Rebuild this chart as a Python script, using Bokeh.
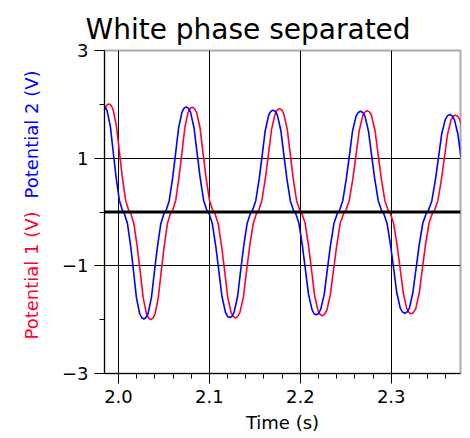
import math
from bokeh.plotting import figure
from bokeh.layouts import row
from bokeh.models import FixedTicker, Span, Range1d, NumeralTickFormatter, ColumnDataSource
from bokeh.core.properties import value
from bokeh.embed import file_html
from bokeh.resources import INLINE

# ---- data ----
time_blue = [1.9830, 1.9854, 1.9875, 1.9911, 1.9942, 1.9973, 2.0009, 2.0041, 2.0067, 2.0099, 2.0135, 2.0166, 2.0197, 2.0233, 2.0254,
             2.0278, 2.0302, 2.0325, 2.0362, 2.0395, 2.0427, 2.0465, 2.0498, 2.0526, 2.0558, 2.0596, 2.0628, 2.0661, 2.0698, 2.0721,
             2.0745, 2.0769, 2.0793, 2.0831, 2.0865, 2.0898, 2.0937, 2.0970, 2.0999, 2.1032, 2.1071, 2.1104, 2.1138, 2.1176, 2.1200,
             2.1224, 2.1248, 2.1272, 2.1310, 2.1343, 2.1376, 2.1414, 2.1448, 2.1476, 2.1510, 2.1548, 2.1581, 2.1614, 2.1652, 2.1676,
             2.1700, 2.1724, 2.1748, 2.1786, 2.1819, 2.1852, 2.1890, 2.1923, 2.1952, 2.1985, 2.2023, 2.2056, 2.2090, 2.2128, 2.2151,
             2.2175, 2.2199, 2.2224, 2.2263, 2.2297, 2.2331, 2.2370, 2.2404, 2.2433, 2.2467, 2.2506, 2.2540, 2.2574, 2.2613, 2.2638,
             2.2662, 2.2686, 2.2711, 2.2750, 2.2784, 2.2818, 2.2857, 2.2891, 2.2920, 2.2954, 2.2993, 2.3027, 2.3061, 2.3100, 2.3125,
             2.3149, 2.3173, 2.3199, 2.3238, 2.3273, 2.3307, 2.3347, 2.3382, 2.3411, 2.3446, 2.3486, 2.3520, 2.3555, 2.3595, 2.3620,
             2.3644, 2.3668, 2.3694, 2.3733, 2.3768]
potential_2 = [1.98, 1.95, 1.88, 1.58, 1.11, 0.65, 0.22, 0.04, -0.04, -0.22, -0.65, -1.11, -1.59, -1.89, -1.96,
               -1.99, -1.96, -1.89, -1.59, -1.11, -0.66, -0.22, -0.04, 0.04, 0.21, 0.64, 1.09, 1.56, 1.85, 1.93,
               1.95, 1.93, 1.85, 1.56, 1.09, 0.64, 0.21, 0.04, -0.04, -0.22, -0.65, -1.10, -1.57, -1.86, -1.94,
               -1.96, -1.94, -1.86, -1.57, -1.10, -0.65, -0.22, -0.04, 0.04, 0.21, 0.62, 1.06, 1.51, 1.80, 1.87,
               1.89, 1.87, 1.80, 1.51, 1.06, 0.62, 0.21, 0.04, -0.04, -0.21, -0.63, -1.07, -1.53, -1.81, -1.89,
               -1.91, -1.89, -1.81, -1.53, -1.07, -0.63, -0.21, -0.04, 0.04, 0.21, 0.62, 1.05, 1.50, 1.78, 1.85,
               1.87, 1.85, 1.78, 1.50, 1.05, 0.62, 0.21, 0.04, -0.04, -0.21, -0.62, -1.05, -1.50, -1.79, -1.86,
               -1.88, -1.86, -1.79, -1.50, -1.05, -0.62, -0.21, -0.04, 0.04, 0.20, 0.60, 1.01, 1.45, 1.72, 1.79,
               1.81, 1.79, 1.72, 1.45, 1.01]

time_red = [1.9810, 1.9847, 1.9869,
            1.9893, 1.9917, 1.9939, 1.9976, 2.0009, 2.0041, 2.0078, 2.0110, 2.0138, 2.0170, 2.0207, 2.0240, 2.0272, 2.0309, 2.0331,
            2.0355, 2.0379, 2.0401, 2.0437, 2.0469, 2.0501, 2.0537, 2.0569, 2.0597, 2.0629, 2.0665, 2.0697, 2.0729, 2.0765, 2.0787,
            2.0811, 2.0835, 2.0859, 2.0897, 2.0930, 2.0963, 2.1001, 2.1035, 2.1063, 2.1097, 2.1135, 2.1168, 2.1201, 2.1239, 2.1263,
            2.1287, 2.1311, 2.1335, 2.1374, 2.1408, 2.1442, 2.1481, 2.1515, 2.1544, 2.1577, 2.1616, 2.1650, 2.1684, 2.1723, 2.1747,
            2.1771, 2.1795, 2.1818, 2.1856, 2.1889, 2.1921, 2.1959, 2.1992, 2.2020, 2.2053, 2.2091, 2.2124, 2.2156, 2.2194, 2.2217,
            2.2241, 2.2265, 2.2291, 2.2330, 2.2365, 2.2399, 2.2439, 2.2474, 2.2503, 2.2538, 2.2578, 2.2612, 2.2647, 2.2687, 2.2712,
            2.2736, 2.2760, 2.2784, 2.2823, 2.2857, 2.2891, 2.2930, 2.2964, 2.2993, 2.3026, 2.3065, 2.3099, 2.3133, 2.3172, 2.3196,
            2.3220, 2.3244, 2.3269, 2.3308, 2.3342, 2.3376, 2.3415, 2.3449, 2.3478, 2.3512, 2.3551, 2.3585, 2.3619, 2.3658, 2.3683,
            2.3707, 2.3731, 2.3756, 2.3795]
potential_1 = [1.61, 1.91, 1.98,
               2.01, 1.98, 1.91, 1.61, 1.13, 0.66, 0.22, 0.04, -0.04, -0.22, -0.66, -1.12, -1.60, -1.90, -1.97,
               -2.00, -1.97, -1.90, -1.60, -1.12, -0.66, -0.22, -0.04, 0.04, 0.21, 0.64, 1.09, 1.56, 1.85, 1.92,
               1.95, 1.92, 1.85, 1.56, 1.09, 0.64, 0.21, 0.04, -0.04, -0.22, -0.65, -1.10, -1.58, -1.87, -1.94,
               -1.97, -1.94, -1.87, -1.58, -1.10, -0.65, -0.22, -0.04, 0.04, 0.21, 0.63, 1.08, 1.54, 1.82, 1.90,
               1.92, 1.90, 1.82, 1.54, 1.08, 0.63, 0.21, 0.04, -0.04, -0.21, -0.64, -1.08, -1.54, -1.83, -1.90,
               -1.93, -1.90, -1.83, -1.54, -1.08, -0.64, -0.21, -0.04, 0.04, 0.21, 0.62, 1.05, 1.50, 1.79, 1.86,
               1.88, 1.86, 1.79, 1.50, 1.05, 0.62, 0.21, 0.04, -0.04, -0.21, -0.62, -1.06, -1.51, -1.80, -1.87,
               -1.89, -1.87, -1.80, -1.51, -1.06, -0.62, -0.21, -0.04, 0.04, 0.20, 0.59, 1.01, 1.44, 1.71, 1.78,
               1.80, 1.78, 1.71, 1.44]

x_ticks = [2.0, 2.1, 2.2, 2.3]
x_minor_ticks = [2.02, 2.04, 2.06, 2.08, 2.12, 2.14, 2.16, 2.18,
                 2.22, 2.24, 2.26, 2.28, 2.32, 2.34, 2.36]
y_ticks = [-3, -1, 1, 3]
y_minor_ticks = [-2, 0, 2]
y_tick_labels = {-3: "\u22123", -1: "\u22121", 1: "1", 3: "3"}

title_text = "White phase separated"
x_label = "Time (s)"
y_labels = ["Potential 1 (V)", "Potential 2 (V)"]

RED = "#ff0033"
BLUE = "#0000ff"
FONT = "DejaVu Sans"
LEFT_W = 50
TOP, FRAME_H, BOTTOM = 50, 323, 63

# ---- main plot ----
p = figure(frame_width=356, frame_height=FRAME_H,
           x_range=Range1d(1.9846, 2.3762), y_range=Range1d(-3, 3),
           output_backend="svg", toolbar_location=None,
           min_border_left=104 - LEFT_W, min_border_right=8,
           min_border_top=TOP, min_border_bottom=BOTTOM)
p.background_fill_color = "white"
p.border_fill_color = "white"
p.outline_line_color = "#aaaaaa"
p.outline_line_width = 2

p.title.text = title_text
p.title.text_font = FONT
p.title.text_font_size = "28px"
p.title.text_font_style = "normal"
p.title.text_color = "black"
p.title.align = "left"
p.title.offset = -19

p.xaxis.ticker = FixedTicker(ticks=x_ticks, minor_ticks=x_minor_ticks)
p.xaxis.formatter = NumeralTickFormatter(format="0.0")
p.yaxis.ticker = FixedTicker(ticks=y_ticks, minor_ticks=y_minor_ticks)
p.yaxis.major_label_overrides = y_tick_labels
for ax in (p.xaxis[0], p.yaxis[0]):
    ax.axis_line_color = "black"
    ax.axis_line_width = 1
    ax.major_tick_line_color = "black"
    ax.minor_tick_line_color = "black"
    ax.major_tick_out = 10
    ax.major_tick_in = 0
    ax.minor_tick_out = 5
    ax.minor_tick_in = 0
    ax.major_label_text_font = FONT
    ax.major_label_text_font_size = "18px"
    ax.major_label_text_color = "black"
    ax.major_label_standoff = 6
p.xaxis.axis_label = x_label
p.xaxis.axis_label_text_font = FONT
p.xaxis.axis_label_text_font_size = "18px"
p.xaxis.axis_label_text_font_style = "normal"
p.xaxis.axis_label_text_color = "black"
p.xaxis.axis_label_standoff = 6

p.xgrid.grid_line_color = "black"
p.xgrid.grid_line_width = 1
p.ygrid.grid_line_color = "black"
p.ygrid.grid_line_width = 1

p.line(time_red, potential_1, line_color=RED, line_width=1.6)
p.line(time_blue, potential_2, line_color=BLUE, line_width=1.6)
p.add_layout(Span(location=0, dimension="width", line_color="black", line_width=3))

# ---- left strip holding the two coloured y-axis labels (frame mirrors the main frame) ----
q = figure(frame_width=LEFT_W, frame_height=FRAME_H,
           x_range=Range1d(0, LEFT_W), y_range=Range1d(TOP + FRAME_H, TOP),
           x_axis_type=None, y_axis_type=None,
           output_backend="svg", toolbar_location=None,
           min_border_left=0, min_border_right=0,
           min_border_top=TOP, min_border_bottom=BOTTOM)
q.outline_line_color = None
q.xgrid.visible = False
q.ygrid.visible = False
q.background_fill_color = "white"
q.border_fill_color = "white"
lab_src = ColumnDataSource(dict(x=[31, 31], y=[275, 134], text=y_labels, color=[RED, BLUE]))
q.text(x="x", y="y", text="text", source=lab_src, angle=math.pi / 2,
       text_color="color", text_align="center", text_baseline="middle",
       text_font=value(FONT), text_font_size=value("18px"))

layout = row(q, p, spacing=0)
open("out.html", "w").write(file_html(layout, INLINE))
